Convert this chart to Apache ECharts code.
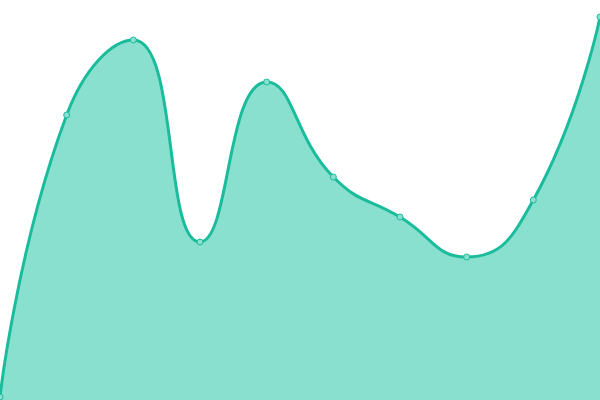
<!DOCTYPE html>
<html>
<head>
	<meta charset="utf-8">
	<script src="https://cdn.jsdelivr.net/npm/echarts@6/dist/echarts.min.js"></script>
</head>
<body style="margin:0;">
	<div id="container" style="width:600px;height:400px;"></div>
	<script type="text/javascript">
	var categories = ['1', '2', '3', '4', '5', '6', '7', '8', '9', '10'];
	var values = [3, 285, 360, 158, 318, 223, 183, 143, 200, 383];

	var myChart = echarts.init(document.getElementById('container'));
	myChart.setOption({
		animation: false,
		grid: { left: 0, right: 0, top: 0, bottom: 0 },
		xAxis: {
			type: 'category',
			data: categories,
			boundaryGap: false,
			show: false
		},
		yAxis: {
			type: 'value',
			min: 0,
			max: 400,
			show: false
		},
		series: [
			{
				type: 'line',
				data: values,
				smooth: true,
				symbol: 'circle',
				symbolSize: 6,
				itemStyle: { color: '#8ae0cf', borderColor: '#1abc9c', borderWidth: 1 },
				lineStyle: { color: '#1abc9c', width: 3 },
				areaStyle: { color: '#8ae0cf', opacity: 1 }
			}
		]
	});
	</script>
</body>
</html>
